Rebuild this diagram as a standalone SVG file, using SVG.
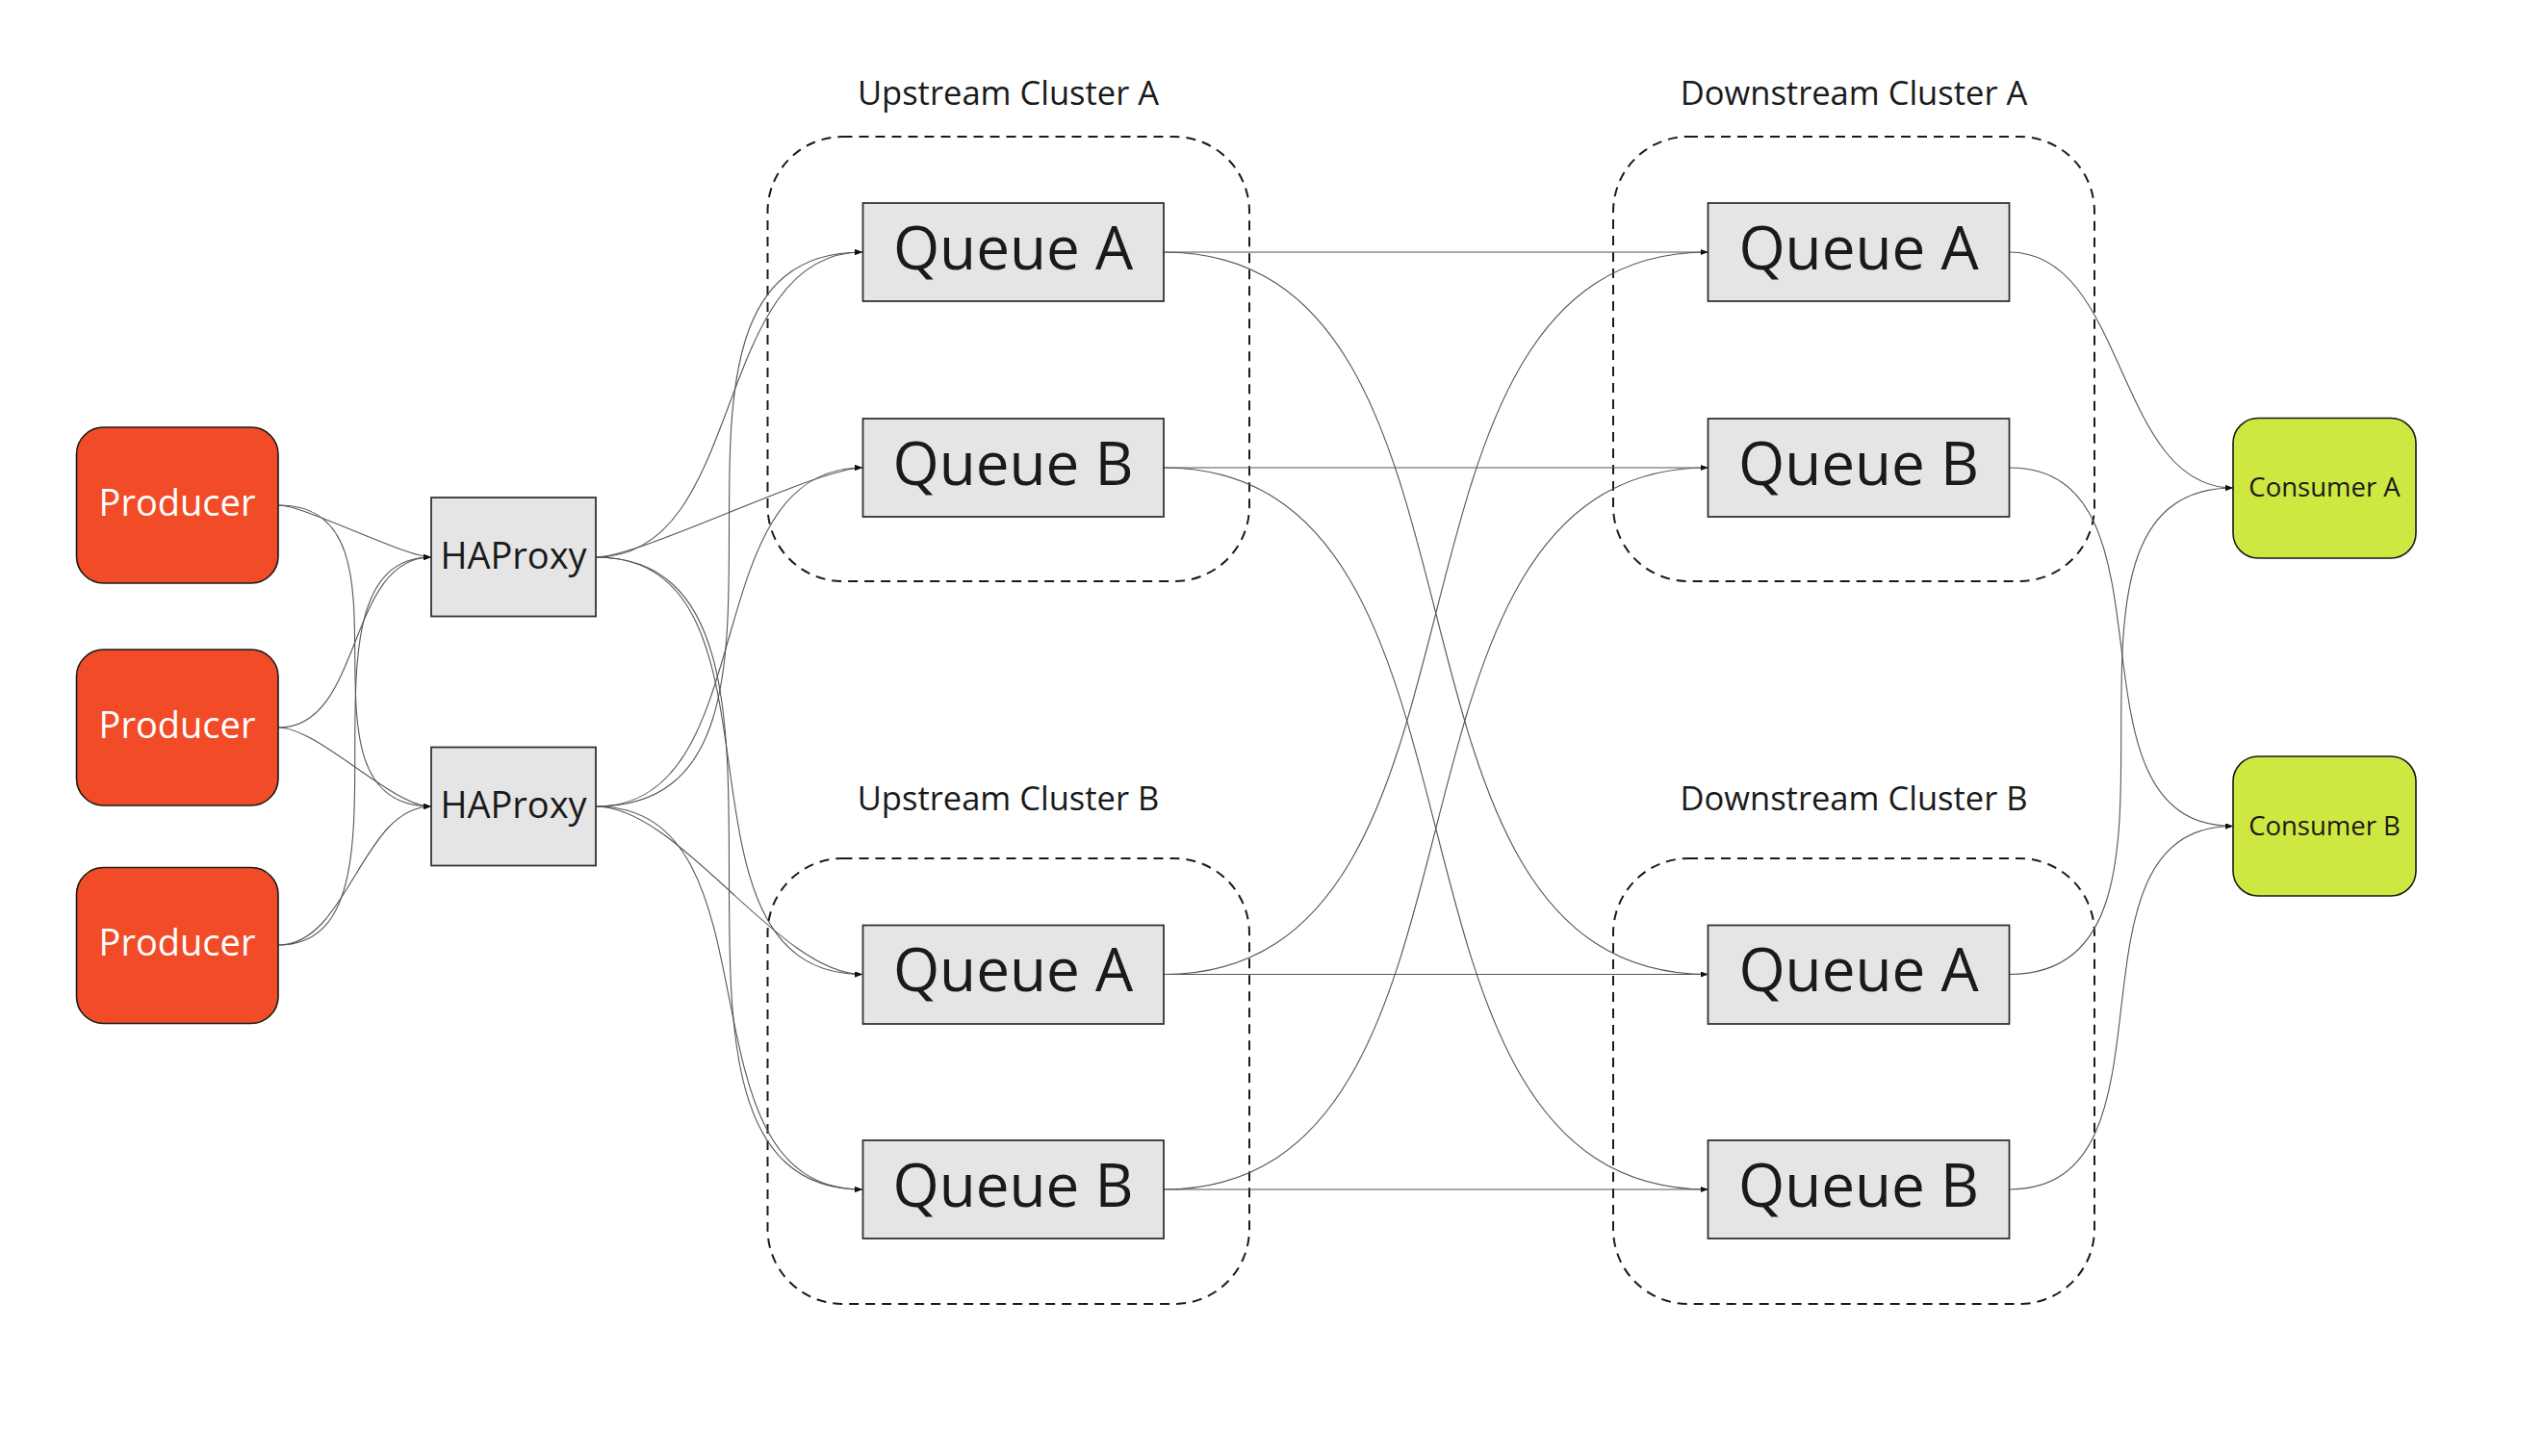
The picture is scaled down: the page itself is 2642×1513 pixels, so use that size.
<svg xmlns="http://www.w3.org/2000/svg" width="2642" height="1513" viewBox="0 0 2642 1513">
<style>
  .bg{fill:#ffffff}
  .cluster{fill:none;stroke:#1a1a1a;stroke-width:2;stroke-dasharray:10 7}
  .ctitle{font-family:"Open Sans","Noto Sans","Liberation Sans",sans-serif;font-size:34.5px;fill:#1a1a1a;text-anchor:middle}
  .producer{fill:#f14b28;stroke:#1a1a1a;stroke-width:1.6}
  .ptext{font-family:"Open Sans","Noto Sans","Liberation Sans",sans-serif;font-size:38px;fill:#ffffff;text-anchor:middle}
  .box{fill:#e5e5e5;stroke:#333333;stroke-width:1.8}
  .htext{font-family:"Open Sans","Noto Sans","Liberation Sans",sans-serif;font-size:38px;fill:#1a1a1a;text-anchor:middle}
  .qtext{font-family:"Open Sans","Noto Sans","Liberation Sans",sans-serif;font-size:62px;fill:#1a1a1a;text-anchor:middle}
  .consumer{fill:#cfe741;stroke:#1a1a1a;stroke-width:1.6}
  .ctext{font-family:"Open Sans","Noto Sans","Liberation Sans",sans-serif;font-size:27.5px;fill:#1a1a1a;text-anchor:middle}
  .edge{fill:none;stroke:#555555;stroke-width:1.1;marker-end:url(#arrow)}
</style>
<defs>
  <marker id="arrow" markerUnits="userSpaceOnUse" markerWidth="9" markerHeight="6" refX="8" refY="3" orient="auto">
    <path d="M0,0 L8,3 L0,6 z" fill="#111111"/>
  </marker>
</defs>
<rect class="bg" x="0" y="0" width="2642" height="1513"/>

<g id="clusters">
  <g id="upstream-cluster-a">
    <rect class="cluster" x="797.5" y="142" width="500.5" height="462" rx="78" ry="78"/>
    <text class="ctitle" x="1047.5" y="109">Upstream Cluster A</text>
  </g>
  <g id="upstream-cluster-b">
    <rect class="cluster" x="797.5" y="892" width="500.5" height="463" rx="78" ry="78"/>
    <text class="ctitle" x="1047.5" y="842">Upstream Cluster B</text>
  </g>
  <g id="downstream-cluster-a">
    <rect class="cluster" x="1676" y="142" width="500" height="462" rx="78" ry="78"/>
    <text class="ctitle" x="1926" y="109">Downstream Cluster A</text>
  </g>
  <g id="downstream-cluster-b">
    <rect class="cluster" x="1676" y="892" width="500" height="463" rx="78" ry="78"/>
    <text class="ctitle" x="1926" y="842">Downstream Cluster B</text>
  </g>
</g>

<g id="connectors">
  <!-- producers to haproxy -->
  <path class="edge" d="M289.5 525 C316.5 525 421 579 448 579"/>
  <path class="edge" d="M289.5 525 C446 525 291.5 838 448 838"/>
  <path class="edge" d="M289.5 756 C378 756 359.5 579 448 579"/>
  <path class="edge" d="M289.5 756 C330.5 756 407 838 448 838"/>
  <path class="edge" d="M289.5 982 C448 982 289.5 579 448 579"/>
  <path class="edge" d="M289.5 982 C361.5 982 376 838 448 838"/>
  <!-- haproxy 1 to upstream queues -->
  <path class="edge" d="M619 579 C777.5 579 737.5 262 896 262"/>
  <path class="edge" d="M619 579 C665.5 579 849.5 486 896 486"/>
  <path class="edge" d="M619 579 C835.75 579 679.25 1012.5 896 1012.5"/>
  <path class="edge" d="M619 579 C896 579 619 1236 896 1236"/>
  <!-- haproxy 2 to upstream queues -->
  <path class="edge" d="M619 838 C896 838 619 262 896 262"/>
  <path class="edge" d="M619 838 C795 838 720 486 896 486"/>
  <path class="edge" d="M619 838 C706.25 838 808.75 1012.5 896 1012.5"/>
  <path class="edge" d="M619 838 C818 838 697 1236 896 1236"/>
  <!-- upstream to downstream -->
  <path class="edge" d="M1209 262 L1774.5 262"/>
  <path class="edge" d="M1209 262 C1584.25 262 1399.25 1012.5 1774.5 1012.5"/>
  <path class="edge" d="M1209 486 L1774.5 486"/>
  <path class="edge" d="M1209 486 C1584 486 1399.5 1236 1774.5 1236"/>
  <path class="edge" d="M1209 1012.5 L1774.5 1012.5"/>
  <path class="edge" d="M1209 1012.5 C1584.25 1012.5 1399.25 262 1774.5 262"/>
  <path class="edge" d="M1209 1236 L1774.5 1236"/>
  <path class="edge" d="M1209 1236 C1584 1236 1399.5 486 1774.5 486"/>
  <!-- downstream to consumers -->
  <path class="edge" d="M2087.5 262 C2210 262 2197.5 507 2320 507"/>
  <path class="edge" d="M2087.5 1012.5 C2320 1012.5 2087.5 507 2320 507"/>
  <path class="edge" d="M2087.5 486 C2273.75 486 2133.75 858.5 2320 858.5"/>
  <path class="edge" d="M2087.5 1236 C2276.25 1236 2131.25 858.5 2320 858.5"/>
</g>

<g id="producer-1">
  <rect class="producer" x="79.5" y="444" width="209.5" height="162" rx="28" ry="28"/>
  <text class="ptext" x="184" y="535.5">Producer</text>
</g>
<g id="producer-2">
  <rect class="producer" x="79.5" y="675" width="209.5" height="162" rx="28" ry="28"/>
  <text class="ptext" x="184" y="766.5">Producer</text>
</g>
<g id="producer-3">
  <rect class="producer" x="79.5" y="901.5" width="209.5" height="162" rx="28" ry="28"/>
  <text class="ptext" x="184" y="993">Producer</text>
</g>

<g id="haproxy-1">
  <rect class="box" x="448" y="517" width="171" height="123.5"/>
  <text class="htext" x="533.5" y="590.5">HAProxy</text>
</g>
<g id="haproxy-2">
  <rect class="box" x="448" y="776.5" width="171" height="123"/>
  <text class="htext" x="533.5" y="849.5">HAProxy</text>
</g>

<g id="upstream-a-queue-a">
  <rect class="box" x="896.5" y="211" width="312.5" height="102"/>
  <text class="qtext" x="1052.5" y="279.5">Queue A</text>
</g>
<g id="upstream-a-queue-b">
  <rect class="box" x="896.5" y="435" width="312.5" height="102"/>
  <text class="qtext" x="1052.5" y="503.5">Queue B</text>
</g>
<g id="upstream-b-queue-a">
  <rect class="box" x="896.5" y="961.5" width="312.5" height="102.5"/>
  <text class="qtext" x="1052.5" y="1030">Queue A</text>
</g>
<g id="upstream-b-queue-b">
  <rect class="box" x="896.5" y="1185" width="312.5" height="102"/>
  <text class="qtext" x="1052.5" y="1253.5">Queue B</text>
</g>

<g id="downstream-a-queue-a">
  <rect class="box" x="1774.5" y="211" width="313" height="102"/>
  <text class="qtext" x="1931" y="279.5">Queue A</text>
</g>
<g id="downstream-a-queue-b">
  <rect class="box" x="1774.5" y="435" width="313" height="102"/>
  <text class="qtext" x="1931" y="503.5">Queue B</text>
</g>
<g id="downstream-b-queue-a">
  <rect class="box" x="1774.5" y="961.5" width="313" height="102.5"/>
  <text class="qtext" x="1931" y="1030">Queue A</text>
</g>
<g id="downstream-b-queue-b">
  <rect class="box" x="1774.5" y="1185" width="313" height="102"/>
  <text class="qtext" x="1931" y="1253.5">Queue B</text>
</g>

<g id="consumer-a">
  <rect class="consumer" x="2320" y="434.5" width="190" height="145.5" rx="26" ry="26"/>
  <text class="ctext" x="2415" y="516">Consumer A</text>
</g>
<g id="consumer-b">
  <rect class="consumer" x="2320" y="786" width="190" height="145" rx="26" ry="26"/>
  <text class="ctext" x="2415" y="867.5">Consumer B</text>
</g>
</svg>
